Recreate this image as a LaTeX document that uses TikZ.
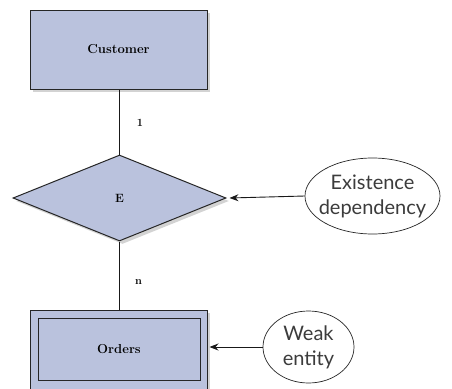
\documentclass[tikz,border=0pt]{standalone}
\usepackage{fontspec}
\newfontfamily\notefont{Lato}
\usetikzlibrary{arrows.meta,shapes.geometric,shadows}
\definecolor{erfill}{RGB}{186,194,221}
\definecolor{notegray}{RGB}{60,60,60}

\begin{document}
\begin{tikzpicture}[x=1pt,y=-1pt,
    entity/.style={draw=black!85,fill=erfill,line width=1pt,rectangle,
        drop shadow={shadow xshift=3pt,shadow yshift=-3pt,opacity=0.35},
        font=\fontsize{13}{15}\selectfont\bfseries},
    relation/.style={draw=black!85,fill=erfill,line width=1pt,diamond,
        minimum width=213pt,minimum height=86pt,inner sep=0pt,
        drop shadow={shadow xshift=3pt,shadow yshift=-3pt,opacity=0.35},
        font=\fontsize{12}{14}\selectfont\bfseries},
    note/.style={draw=black!85,fill=white,ellipse,line width=0.7pt,inner sep=0pt,
        label={[align=center,text=notegray,font=\notefont\fontsize{20}{25}\selectfont]center:#1}},
    card/.style={font=\fontsize{11}{13}\selectfont\bfseries},
    link/.style={line width=0.9pt,black!90},
    pointer/.style={line width=0.9pt,black!90,-{Stealth[length=9pt,width=7pt,inset=3pt]}}]
    % Rahmen
    \useasboundingbox (0,0) rectangle (452,388);
    \clip (0,0) rectangle (452,388);

    % Knoten
    \node[entity,minimum width=177pt,minimum height=79pt] (customer) at (118.5,49.5) {Customer};
    \node[relation] (rel) at (119.5,198) {E};
    \node[entity,minimum width=177pt,minimum height=90pt] (orders) at (118.5,355) {};
    \node[draw=black!85,line width=0.9pt,minimum width=162pt,minimum height=62pt,
        font=\fontsize{13}{15}\selectfont\bfseries] (ordersin) at (119,349) {Orders};
    \node[note={Existence\\dependency},minimum width=135pt,minimum height=76pt] (existence) at (372.5,196) {};
    \node[note={Weak\\entity},minimum width=91pt,minimum height=72pt] (weak) at (308.5,347) {};

    % Kardinalitaeten
    \node[card] (one) at (140,123) {1};
    \node[card] (many) at (138.5,282) {n};

    % Punkte fuer die Pfeilspitzen
    \coordinate (relend) at ([xshift=3pt]rel.east);
    \coordinate (ordend) at ([xshift=2pt]orders.east |- weak.west);

    % Verbindungen
    \draw[link] (customer.south -| rel.north) -- (rel.north);
    \draw[link] (rel.south) -- (rel.south |- orders.north);
    \draw[pointer] (existence.west) -- (relend);
    \draw[pointer] (weak.west) -- (ordend);

\end{tikzpicture}
\end{document}
